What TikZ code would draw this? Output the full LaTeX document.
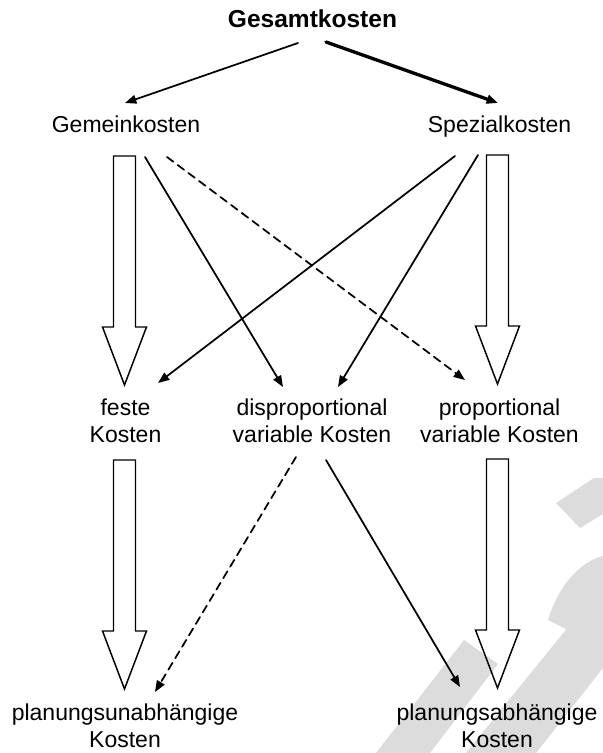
\documentclass[tikz,border=0pt]{standalone}
\usepackage{fontspec}
\setmainfont{Liberation Sans}
\usetikzlibrary{calc,arrows.meta}
\definecolor{wmark}{RGB}{220,220,220}

\tikzset{
	lbl/.style={align=center, inner sep=0pt, font=\fontsize{17.25}{20.25}\selectfont},
	link/.style={line width=1.3pt, ->},
	dashlink/.style={line width=1.3pt, ->, dash pattern=on 6pt off 4pt},
	fatarrow/.pic={
		\draw[line width=1.1pt, line join=miter]
		(-11,0) -- (-11,171) -- (-22,171) -- (0,229) -- (22,171) -- (11,171) -- (11,0) -- cycle;
	}
}

\begin{document}
\begin{tikzpicture}[x=0.75pt, y=-0.75pt, line cap=round, line join=round,
	>={Triangle[length=8.5pt,width=6.5pt]}]
	
	% ----------------------------
	% 0) Canvas (pixel grid, y down)
	% ----------------------------
	\useasboundingbox (0,0) rectangle (603,753);
	
	% ----------------------------
	% 1) Watermark in the background
	% ----------------------------
	\fill[wmark] (376,753) -- (430,753) -- (498,664) -- (464,640) -- cycle;
	\fill[wmark] (466,753) -- (536,753) -- (603,668) -- (603,584) -- cycle;
	\fill[wmark] (548,620) .. controls (560,580) and (585,560) .. (603,556)
	-- (603,600) .. controls (590,604) and (580,612) .. (572,632) -- cycle;
	\fill[wmark] (556,503) -- (594,478) -- (603,478) -- (603,514) -- (580,528) -- cycle;
	
	% ----------------------------
	% 2) Cost nodes
	% ----------------------------
	\node[lbl, font=\fontsize{18.4}{22}\selectfont\bfseries] (ges) at (312.5,19) {Gesamtkosten};
	
	\node[lbl] (gem)  at (126,124.5) {Gemeinkosten};
	\node[lbl] (spez) at (499.5,127) {Spezialkosten};
	
	\node[lbl] (fest)   at (125.5,420.5) {feste\\Kosten};
	\node[lbl] (dispro) at (312,420.5)   {disproportional\\variable Kosten};
	\node[lbl] (pro)    at (499.5,420.5) {proportional\\variable Kosten};
	
	\node[lbl] (unab) at (125,726) {planungsunabhängige\\Kosten};
	\node[lbl] (ab)   at (497,726) {planungsabhängige\\Kosten};
	
	% ----------------------------
	% 3) Split of the total costs
	% ----------------------------
	\draw[link] ($(ges)+(-14.5,24)$) -- ($(gem)+(-1,-21.5)$);
	\draw[link, line width=2.5pt] ($(ges)+(13.5,23)$) -- ($(spez)+(-1.5,-24)$);
	
	% ----------------------------
	% 4) Big hollow arrows
	% ----------------------------
	\pic at ($(gem)+(-1.5,31.5)$) {fatarrow};
	\pic at ($(spez)+(-2,28)$) {fatarrow};
	\pic at ($(fest)+(-1,39.5)$) {fatarrow};
	\pic at ($(pro)+(-2,38.5)$) {fatarrow};
	
	% ----------------------------
	% 5) Cross links
	% ----------------------------
	\draw[link]     ($(gem)+(19,32.5)$)    -- ($(dispro)+(-29,-33.5)$);
	\draw[dashlink] ($(gem)+(41,32.5)$)    -- ($(pro)+(-34.5,-40.5)$);
	\draw[link]     ($(spez)+(-44.5,29)$)  -- ($(fest)+(32.5,-37.5)$);
	\draw[link]     ($(spez)+(-21.5,28)$)  -- ($(dispro)+(26,-33.5)$);
	
	\draw[dashlink] ($(dispro)+(-16,36.5)$) -- ($(unab)+(30,-34)$);
	\draw[link]     ($(dispro)+(14,39.5)$)  -- ($(ab)+(-37,-39)$);
	
\end{tikzpicture}
\end{document}
